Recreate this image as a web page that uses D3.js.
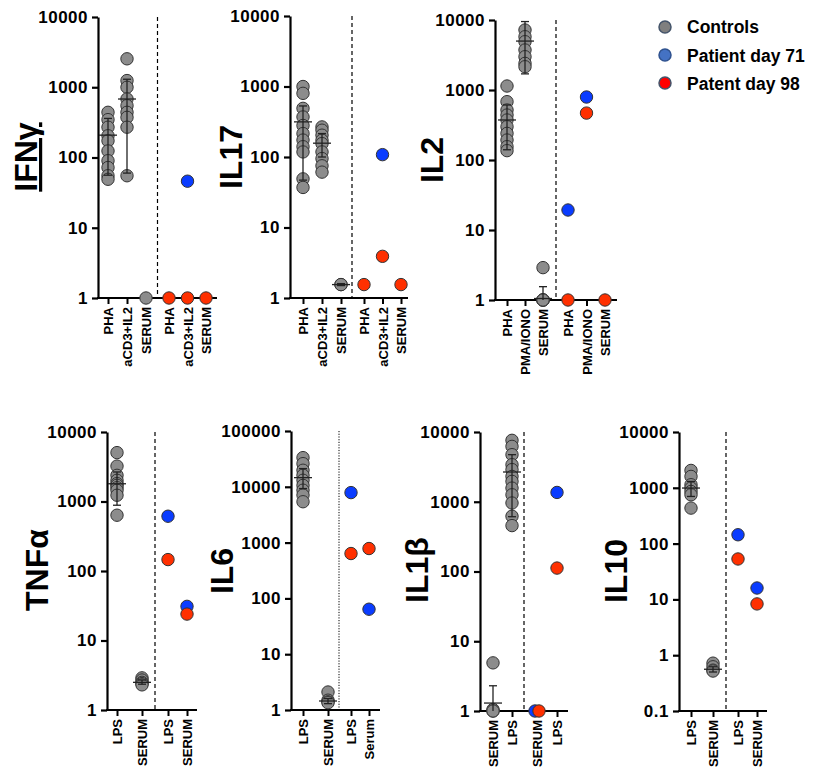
<!DOCTYPE html>
<html><head><meta charset="utf-8">
<script src="https://cdn.jsdelivr.net/npm/d3@7"></script>
<style>
body{margin:0;background:#fff}
text{font-family:"Liberation Sans",Arial,Helvetica,sans-serif;font-weight:bold;fill:#000}
</style>
</head><body>
<svg id="chart" width="818" height="773"></svg>
<script>
// ---------- DATA ----------
const seriesNames = ["Controls", "Patient day 71", "Patent day 98"];

// IFN-gamma
const ifngCtrlCats = ["PHA", "aCD3+IL2", "SERUM"];
const ifngPatCats = ["PHA", "aCD3+IL2", "SERUM"];
const ifngControls = [[440, 346, 270, 204, 173, 124, 90, 72, 55, 49], [2540, 1245, 1000, 681, 547, 440, 373, 270, 55], [1]];
const ifngMean = [208, 680, null];
const ifngLow = [56, 60, null];
const ifngHigh = [360, 1300, null];
const ifngDay71 = [null, 46, null];
const ifngDay98 = [1, 1, 1];
const ifngTicks = [1, 10, 100, 1000, 10000];

// IL17
const il17CtrlCats = ["PHA", "aCD3+IL2", "SERUM"];
const il17PatCats = ["PHA", "aCD3+IL2", "SERUM"];
const il17Controls = [[1000, 800, 490, 370, 280, 215, 174, 140, 118, 49, 37], [267, 240, 204, 173, 155, 118, 95, 75, 61], [1.55, 1.55]];
const il17Mean = [315, 157, 1.55];
const il17Low = [47, 100, 1.5];
const il17High = [530, 215, 1.6];
const il17Day71 = [null, 108, null];
const il17Day98 = [1.55, 3.9, 1.55];
const il17Ticks = [1, 10, 100, 1000, 10000];

// IL2
const il2CtrlCats = ["PHA", "PMA/IONO", "SERUM"];
const il2PatCats = ["PHA", "PMA/IONO", "SERUM"];
const il2Controls = [[1140, 681, 518, 439, 373, 299, 240, 193, 155, 136], [7200, 5770, 4900, 3730, 2990, 2400, 2150], [2.9, 1, 1, 1, 1]];
const il2Mean = [373, 5000, 1.05];
const il2Low = [140, 1700, 1];
const il2High = [611, 9500, 1.55];
const il2Day71 = [19.3, 794, null];
const il2Day98 = [1, 468, 1];
const il2Ticks = [1, 10, 100, 1000, 10000];

// TNF-alpha
const tnfCtrlCats = ["LPS", "SERUM"];
const tnfPatCats = ["LPS", "SERUM"];
const tnfControls = [[5050, 3230, 2380, 2020, 1810, 1710, 1580, 1450, 1230, 635], [2.9, 2.7, 2.5, 2.4, 2.3]];
const tnfMean = [1800, 2.5];
const tnfLow = [884, 2.35];
const tnfHigh = [2660, 2.7];
const tnfDay71 = [614, 31];
const tnfDay98 = [146, 24];
const tnfTicks = [1, 10, 100, 1000, 10000];

// IL6
const il6CtrlCats = ["LPS", "SERUM"];
const il6PatCats = ["LPS", "Serum"];
const il6Controls = [[33300, 26000, 19800, 16100, 13100, 10600, 8700, 7100, 5400], [2.1, 1.5, 1.4, 1.35]];
const il6Mean = [14600, 1.45];
const il6Low = [9300, 1.3];
const il6High = [21200, 1.6];
const il6Day71 = [7870, 64];
const il6Day98 = [637, 783];
const il6Ticks = [1, 10, 100, 1000, 10000, 100000];

// IL1-beta
const il1bCtrlCats = ["SERUM", "LPS"];
const il1bPatCats = ["SERUM", "LPS"];
const il1bControls = [[4.9, 1.05, 1, 1], [7600, 6220, 4730, 3400, 2890, 2310, 1960, 1570, 1260, 960, 620, 455]];
const il1bMean = [1.3, 2670];
const il1bLow = [1, 610];
const il1bHigh = [2.3, 4730];
const il1bDay71 = [1, 1360];
const il1bDay98 = [1, 112];
const il1bTicks = [1, 10, 100, 1000, 10000];

// IL10
const il10CtrlCats = ["LPS", "SERUM"];
const il10PatCats = ["LPS", "SERUM"];
const il10Controls = [[2050, 1600, 1135, 990, 860, 750, 433], [0.72, 0.62, 0.54, 0.52]];
const il10Mean = [990, 0.56];
const il10Low = [700, 0.5];
const il10High = [1300, 0.62];
const il10Day71 = [144, 16];
const il10Day98 = [53, 8.3];
const il10Ticks = [0.1, 1, 10, 100, 1000, 10000];

// ---------- PANELS (data + layout) ----------
const panels = [
  {label:"IFNγ", underline:true, ctrlCats:ifngCtrlCats, patCats:ifngPatCats, controls:ifngControls, mean:ifngMean, low:ifngLow, high:ifngHigh, d71:ifngDay71, d98:ifngDay98, ticks:ifngTicks,
   L:{ax:98, top:17, bottom:298, ctrl:[108,146], pat:[169,206], div:157.5, end:217, lx:37, ly:157, dash:"4,3"}},
  {label:"IL17", ctrlCats:il17CtrlCats, patCats:il17PatCats, controls:il17Controls, mean:il17Mean, low:il17Low, high:il17High, d71:il17Day71, d98:il17Day98, ticks:il17Ticks,
   L:{ax:290, top:16, bottom:298, ctrl:[303,341], pat:[364,401], div:352, end:408, lx:242, ly:157, dash:"4,3"}},
  {label:"IL2", ctrlCats:il2CtrlCats, patCats:il2PatCats, controls:il2Controls, mean:il2Mean, low:il2Low, high:il2High, d71:il2Day71, d98:il2Day98, ticks:il2Ticks,
   L:{ax:495, top:20, bottom:300, ctrl:[507,543], pat:[568,605], div:556, end:617, lx:443, ly:160, dash:"4,3"}},
  {label:"TNFα", ctrlCats:tnfCtrlCats, patCats:tnfPatCats, controls:tnfControls, mean:tnfMean, low:tnfLow, high:tnfHigh, d71:tnfDay71, d98:tnfDay98, ticks:tnfTicks,
   L:{ax:107, top:432, bottom:710, ctrl:[117,142], pat:[168,187], div:155, end:197, lx:48, ly:570, dash:"4,3"}},
  {label:"IL6", ctrlCats:il6CtrlCats, patCats:il6PatCats, controls:il6Controls, mean:il6Mean, low:il6Low, high:il6High, d71:il6Day71, d98:il6Day98, ticks:il6Ticks,
   L:{ax:291, top:431, bottom:710, ctrl:[303,328], pat:[351,369], div:339, end:380, lx:233, ly:571, dash:"1.2,1.5", dashW:1}},
  {label:"IL1β", ctrlCats:il1bCtrlCats, patCats:il1bPatCats, controls:il1bControls, mean:il1bMean, low:il1bLow, high:il1bHigh, d71:il1bDay71, d98:il1bDay98, ticks:il1bTicks, dodge:2,
   L:{ax:480, top:432, bottom:711, ctrl:[493,512], pat:[537,557], div:524, end:568, lx:428, ly:570, dash:"4,3"}},
  {label:"IL10", ctrlCats:il10CtrlCats, patCats:il10PatCats, controls:il10Controls, mean:il10Mean, low:il10Low, high:il10High, d71:il10Day71, d98:il10Day98, ticks:il10Ticks,
   L:{ax:679, top:432, bottom:711, ctrl:[691,713], pat:[738,757], div:726, end:767, lx:627, ly:571, dash:"4,3"}}
];

const colors = {ctrl:"#8c8c8c", d71:"#0a3cff", d98:"#ff3000", stroke:"#333"};
const svg = d3.select("#chart");

function drawPanel(p) {
  const L = p.L;
  const g = svg.append("g");
  const y = d3.scaleLog().domain([p.ticks[0], p.ticks[p.ticks.length-1]]).range([L.bottom, L.top]);
  const xc = d3.scalePoint().domain(p.ctrlCats).range(L.ctrl);
  const xp = d3.scalePoint().domain(p.patCats.map((c,i)=>i)).range(L.pat);

  // divider
  g.append("line").attr("x1", L.div).attr("x2", L.div).attr("y1", L.top).attr("y2", L.bottom)
    .attr("stroke", "#000").attr("stroke-width", L.dashW || 1.2).attr("stroke-dasharray", L.dash);

  // y axis
  const ya = g.append("g").attr("transform", `translate(${L.ax},0)`)
    .call(d3.axisLeft(y).tickValues(p.ticks).tickFormat(d => String(d)).tickSize(6).tickSizeOuter(0).tickPadding(4));
  ya.select(".domain").attr("stroke-width", 2.2);
  ya.selectAll(".tick line").attr("stroke-width", 2.2);
  ya.selectAll(".tick text").style("font-size", "17px").style("letter-spacing", "0.5px");

  // x axis line
  g.append("line").attr("x1", L.ax - 1).attr("x2", L.end).attr("y1", L.bottom).attr("y2", L.bottom)
    .attr("stroke", "#000").attr("stroke-width", 2.2);
  const xaC = g.append("g").attr("transform", `translate(0,${L.bottom})`).call(d3.axisBottom(xc).tickSize(6).tickSizeOuter(0));
  const xaP = g.append("g").attr("transform", `translate(0,${L.bottom})`)
    .call(d3.axisBottom(xp).tickSize(6).tickSizeOuter(0).tickFormat(i => p.patCats[i]));
  [xaC, xaP].forEach(a => {
    a.select(".domain").remove();
    a.selectAll(".tick line").attr("stroke-width", 2);
    a.selectAll(".tick text").attr("transform", "rotate(-90)").attr("x", -9).attr("y", 0)
      .attr("dy", "0.36em").style("text-anchor", "end").style("font-size", "13px");
  });

  // control dots
  p.controls.forEach((vals, i) => {
    g.append("g").selectAll("circle").data(vals).join("circle")
      .attr("cx", xc(p.ctrlCats[i])).attr("cy", d => y(d)).attr("r", 6.2)
      .attr("fill", colors.ctrl).attr("stroke", colors.stroke).attr("stroke-width", 1);
  });
  // mean +/- SD
  p.mean.forEach((m, i) => {
    if (m == null) return;
    const cx = xc(p.ctrlCats[i]);
    const lo = Math.max(p.low[i], y.domain()[0]);
    const eg = g.append("g").attr("stroke", "#222").attr("stroke-width", 1.3);
    eg.append("line").attr("x1", cx).attr("x2", cx).attr("y1", y(lo)).attr("y2", y(p.high[i]));
    eg.append("line").attr("x1", cx - 9).attr("x2", cx + 9).attr("y1", y(m)).attr("y2", y(m));
    eg.append("line").attr("x1", cx - 4).attr("x2", cx + 4).attr("y1", y(p.high[i])).attr("y2", y(p.high[i]));
    if (p.low[i] > y.domain()[0]) eg.append("line").attr("x1", cx - 4).attr("x2", cx + 4).attr("y1", y(lo)).attr("y2", y(lo));
  });
  // patient dots
  const dodge = p.dodge || 0;
  p.d71.forEach((v, i) => {
    if (v == null) return;
    g.append("circle").attr("cx", xp(i) - (p.d98[i] === v ? dodge : 0)).attr("cy", y(v)).attr("r", 6.2)
      .attr("fill", colors.d71).attr("stroke", colors.stroke).attr("stroke-width", 1);
  });
  p.d98.forEach((v, i) => {
    if (v == null) return;
    g.append("circle").attr("cx", xp(i) + (p.d71[i] === v ? dodge : 0)).attr("cy", y(v)).attr("r", 6.2)
      .attr("fill", colors.d98).attr("stroke", colors.stroke).attr("stroke-width", 1);
  });

  // y label
  const t = g.append("text").attr("transform", `translate(${L.lx},${L.ly}) rotate(-90)`)
    .style("text-anchor", "middle").style("font-size", "32px").text(p.label);
  if (p.underline) t.style("text-decoration", "underline");
}

panels.forEach(drawPanel);

// legend
const legColors = [["#7f7f7f", "#44546a"], ["#4472c4", "#2f528f"], ["#ff0000", "#44546a"]];
const leg = svg.append("g");
seriesNames.forEach((n, i) => {
  leg.append("circle").attr("cx", 665).attr("cy", 27 + i * 28).attr("r", 6)
    .attr("fill", legColors[i][0]).attr("stroke", legColors[i][1]).attr("stroke-width", 1.5);
  leg.append("text").attr("x", 687).attr("y", 33 + i * 28.5).style("font-size", "17.5px").text(n);
});
</script>
</body></html>
